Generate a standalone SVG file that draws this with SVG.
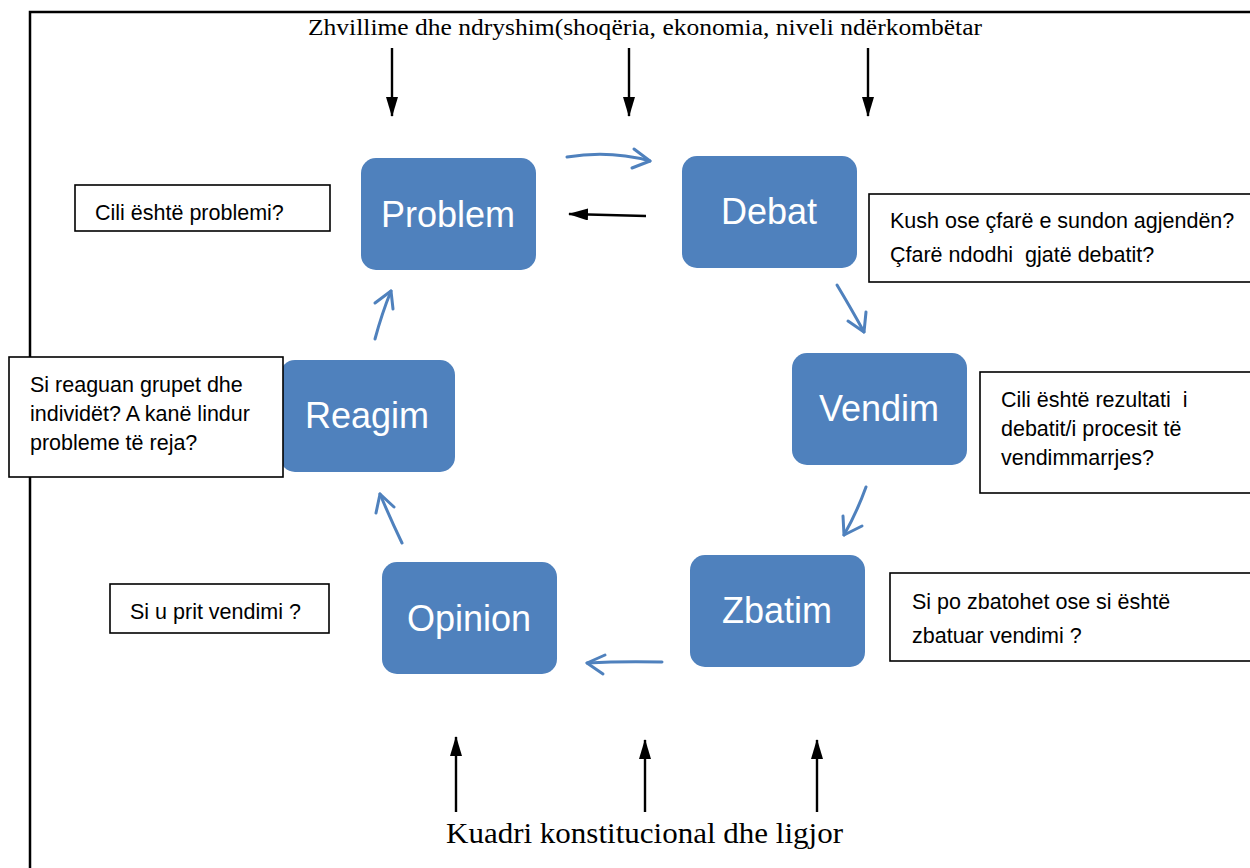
<svg xmlns="http://www.w3.org/2000/svg" width="1250" height="868" viewBox="0 0 1250 868">
<defs>
<marker id="blk" viewBox="0 0 20 12" refX="19" refY="6" markerWidth="20" markerHeight="12" orient="auto" markerUnits="userSpaceOnUse">
<path d="M0,0 L20,6 L0,12 z" fill="#000"/>
</marker>
</defs>
<style>
.node rect{fill:#4F81BD;}
.node text{fill:#fff;font-family:"Liberation Sans",Arial,sans-serif;font-size:36px;text-anchor:middle;}
.note rect{fill:#fff;stroke:#000;stroke-width:1.6;}
.note text{fill:#000;font-family:"Liberation Sans",Arial,sans-serif;font-size:21.5px;white-space:pre;}
.blue{fill:none;stroke:#4F81BD;stroke-width:3;stroke-linecap:round;stroke-linejoin:round;}
.black{fill:none;stroke:#000;stroke-width:2.4;marker-end:url(#blk);}
.serif{font-family:"Liberation Serif","Times New Roman",serif;fill:#000;}
</style>
<rect width="1250" height="868" fill="#fff"/>
<path d="M30,868 V12 H1250" fill="none" stroke="#000" stroke-width="2.5"/>
<text class="serif" x="308" y="35" font-size="24" textLength="674" lengthAdjust="spacingAndGlyphs">Zhvillime dhe ndryshim(shoqëria, ekonomia, niveli ndërkombëtar</text>
<text class="serif" x="446" y="843" font-size="29" textLength="397" lengthAdjust="spacingAndGlyphs">Kuadri konstitucional dhe ligjor</text>

<g id="node-problem" class="node"><rect x="361" y="158" width="175" height="112" rx="15"/><text x="448" y="227">Problem</text></g>
<g id="node-debat" class="node"><rect x="682" y="156" width="175" height="112" rx="15"/><text x="769" y="224">Debat</text></g>
<g id="node-vendim" class="node"><rect x="792" y="353" width="175" height="112" rx="15"/><text x="879" y="421">Vendim</text></g>
<g id="node-zbatim" class="node"><rect x="690" y="555" width="175" height="112" rx="15"/><text x="777" y="623">Zbatim</text></g>
<g id="node-opinion" class="node"><rect x="382" y="562" width="175" height="112" rx="15"/><text x="469" y="631">Opinion</text></g>
<g id="node-reagim" class="node"><rect x="280" y="360" width="175" height="112" rx="15"/><text x="367" y="428">Reagim</text></g>

<g id="note-problem" class="note"><rect x="75" y="185" width="255" height="46"/><text x="95" y="220" font-size="22.5">Cili është problemi?</text></g>
<g id="note-debat" class="note"><rect x="869" y="194" width="390" height="88"/><text x="890" y="228">Kush ose çfarë e sundon agjendën?</text><text x="890" y="262">Çfarë ndodhi  gjatë debatit?</text></g>
<g id="note-reagim" class="note"><rect x="9" y="357" width="274" height="120"/><text x="30" y="392">Si reaguan grupet dhe</text><text x="30" y="421">individët? A kanë lindur</text><text x="30" y="450">probleme të reja?</text></g>
<g id="note-vendim" class="note"><rect x="980" y="372" width="280" height="121"/><text x="1001" y="407">Cili është rezultati  i</text><text x="1001" y="436">debatit/i procesit të</text><text x="1001" y="465">vendimmarrjes?</text></g>
<g id="note-zbatim" class="note"><rect x="890" y="573" width="370" height="88"/><text x="912" y="609">Si po zbatohet ose si është</text><text x="912" y="643">zbatuar vendimi ?</text></g>
<g id="note-opinion" class="note"><rect x="110" y="584" width="219" height="49"/><text x="130" y="619">Si u prit vendimi ?</text></g>

<g id="connectors">
<line class="black" x1="392" y1="48" x2="392" y2="116"/>
<line class="black" x1="629" y1="48" x2="629" y2="116"/>
<line class="black" x1="868" y1="48" x2="868" y2="116"/>
<line class="black" x1="456" y1="812" x2="456" y2="737"/>
<line class="black" x1="645" y1="812" x2="645" y2="740"/>
<line class="black" x1="817" y1="812" x2="817" y2="740"/>
<line class="black" x1="646" y1="216" x2="569" y2="214"/>

<path class="blue" d="M567,157 Q610,150 650,161"/>
<path class="blue" d="M634,149 L650,161 L632,168"/>
<path class="blue" d="M837,285 Q852,310 864,332"/>
<path class="blue" d="M848,321 L864,332 L866,312"/>
<path class="blue" d="M866,487 Q857,512 844,535"/>
<path class="blue" d="M843,516 L844,535 L862,526"/>
<path class="blue" d="M662,662 Q622,661 587,663"/>
<path class="blue" d="M605,655 L587,663 L603,674"/>
<path class="blue" d="M402,543 Q390,518 380,494"/>
<path class="blue" d="M376,513 L380,494 L394,507"/>
<path class="blue" d="M375,339 Q382,313 391,291"/>
<path class="blue" d="M375,303 L391,291 L393,309"/>
</g>
</svg>
